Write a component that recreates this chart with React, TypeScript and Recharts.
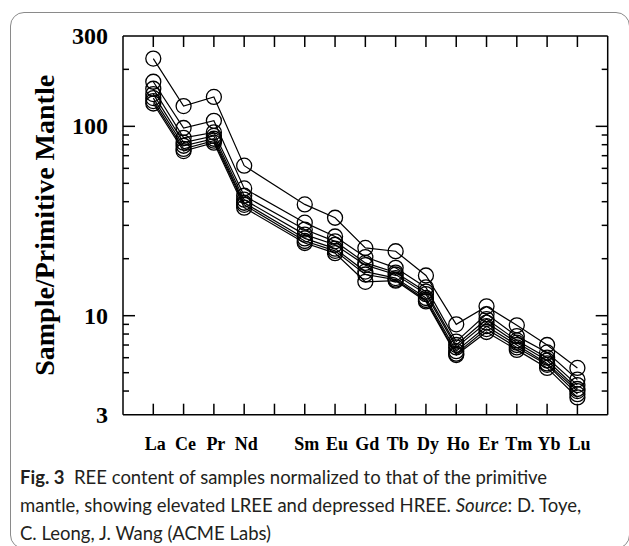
import React from "react";
import { LineChart, Line, XAxis, YAxis } from "recharts";

const ELEMENTS = ["La", "Ce", "Pr", "Nd", "Pm", "Sm", "Eu", "Gd", "Tb", "Dy", "Ho", "Er", "Tm", "Yb", "Lu"];
const TICK_LABELS = ["La", "Ce", "Pr", "Nd", "", "Sm", "Eu", "Gd", "Tb", "Dy", "Ho", "Er", "Tm", "Yb", "Lu"];

const S1 = [228, 128, 143, 62, null, 38.7, 32.9, 22.8, 21.9, 16.3, 9.0, 11.2, 8.9, 7.0, 5.3];
const S2 = [172, 98, 107, 47, null, 31, 26.2, 20.4, 17.9, 14.1, 7.3, 10.2, 7.8, 6.4, 4.6];
const S3 = [158, 87, 93, 43, null, 28.5, 24.7, 19.0, 16.9, 13.4, 7.0, 9.6, 7.4, 6.0, 4.3];
const S4 = [148, 82, 89, 41, null, 26.8, 23.7, 18.5, 16.5, 13.0, 6.8, 9.2, 7.2, 5.8, 4.1];
const S5 = [141, 79, 86, 39.5, null, 25.6, 22.6, 17.1, 15.8, 12.4, 6.5, 8.8, 7.0, 5.6, 4.0];
const S6 = [136, 76, 84, 38.5, null, 24.8, 22.0, 16.5, 15.5, 12.1, 6.3, 8.5, 6.8, 5.5, 3.85];
const S7 = [132, 74, 82, 37.2, null, 24.2, 21.4, 15.1, 15.3, 11.9, 6.2, 8.2, 6.6, 5.3, 3.7];

const SERIES = [S1, S2, S3, S4, S5, S6, S7];

const Y_TICKS = [3, 4, 5, 6, 7, 8, 9, 10, 20, 30, 40, 50, 60, 70, 80, 90, 100, 200, 300];
const Y_LABELS = [3, 10, 100, 300];
const Y_MAJOR = [10, 100];
const X_TICKS = ELEMENTS.map((_, i) => i);

const data = ELEMENTS.map((el, i) => {
  const row: any = { x: i, el };
  SERIES.forEach((s, k) => {
    row["s" + (k + 1)] = s[i];
  });
  return row;
});

const SERIF = "'Liberation Serif', 'Times New Roman', serif";
const LEFT_MARGIN = 15;

const LeftTick = (props: any) => {
  const { x, y, payload } = props;
  const v = payload.value;
  const ax = x + LEFT_MARGIN;
  const len = Y_MAJOR.includes(v) ? 12 : 6;
  const showLine = v !== 3 && v !== 300;
  return (
    <g>
      {showLine && <line x1={ax} x2={ax + len} y1={y} y2={y} stroke="#000" strokeWidth={1.5} />}
      {Y_LABELS.includes(v) && (
        <text x={x} y={y} dy={8} textAnchor="end" fontFamily={SERIF} fontWeight="bold" fontSize={24} fill="#000">
          {v}
        </text>
      )}
    </g>
  );
};

const RightTick = (props: any) => {
  const { x, y, payload } = props;
  const v = payload.value;
  const len = Y_MAJOR.includes(v) ? 12 : 6;
  if (v === 3 || v === 300) return <g />;
  return <line x1={x} x2={x - len} y1={y} y2={y} stroke="#000" strokeWidth={1.5} />;
};

const BOTTOM_MARGIN = 30;
const BottomTick = (props: any) => {
  const { x, y, payload } = props;
  const i = payload.value;
  const ay = y - BOTTOM_MARGIN;
  return (
    <g>
      <line x1={x} x2={x} y1={ay} y2={ay - 11} stroke="#000" strokeWidth={1.5} />
      <text x={x + 2} y={ay + 35} textAnchor="middle" fontFamily={SERIF} fontWeight="bold" fontSize={18} fill="#000">
        {TICK_LABELS[i]}
      </text>
    </g>
  );
};

const TopTick = (props: any) => {
  const { x, y } = props;
  return <line x1={x} x2={x} y1={y} y2={y + 11} stroke="#000" strokeWidth={1.5} />;
};

const dotStyle = { r: 7.5, stroke: "#000", strokeWidth: 1.3, fill: "none" };

export default function App() {
  return (
    <div style={{ position: "fixed", left: 0, top: 0, width: 629, height: 546, background: "#fff", overflow: "hidden" }}>
      <div
        style={{
          position: "absolute",
          left: 10,
          top: 12,
          width: 620,
          height: 537,
          border: "1.5px solid #8a8a8a",
          borderRadius: 14,
          boxSizing: "border-box",
        }}
      />
      <div style={{ position: "absolute", left: 0, top: 0 }}>
        <LineChart
          width={629}
          height={460}
          data={data}
          margin={{ top: 35, right: 20.3, left: 63, bottom: 15.3 }}
        >
          <XAxis
            xAxisId="bottom"
            dataKey="x"
            type="number"
            domain={[-1, 15]}
            ticks={X_TICKS}
            orientation="bottom"
            height={30}
            tickSize={0}
            tickMargin={BOTTOM_MARGIN}
            tick={<BottomTick />}
            axisLine={{ stroke: "#000", strokeWidth: 1.5 }}
            tickLine={false}
            interval={0}
            allowDataOverflow
          />
          <XAxis
            xAxisId="top"
            dataKey="x"
            type="number"
            domain={[-1, 15]}
            ticks={X_TICKS}
            orientation="top"
            height={1}
            tickSize={0}
            tickMargin={0}
            tick={<TopTick />}
            axisLine={{ stroke: "#000", strokeWidth: 1.5 }}
            tickLine={false}
            interval={0}
            allowDataOverflow
          />
          <YAxis
            yAxisId="left"
            scale="log"
            type="number"
            domain={[3, 300]}
            ticks={Y_TICKS}
            interval={0}
            width={60}
            tickSize={0}
            tickMargin={LEFT_MARGIN}
            tick={<LeftTick />}
            tickLine={false}
            axisLine={{ stroke: "#000", strokeWidth: 1.5 }}
            allowDataOverflow
            label={{
              value: "Sample/Primitive Mantle",
              angle: -90,
              position: "insideLeft",
              dx: -24,
              dy: 0,
              style: { fontFamily: SERIF, fontWeight: "bold", fontSize: 28, fill: "#000", textAnchor: "middle" },
            }}
          />
          <YAxis
            yAxisId="right"
            orientation="right"
            scale="log"
            type="number"
            domain={[3, 300]}
            ticks={Y_TICKS}
            interval={0}
            width={1}
            tickSize={0}
            tickMargin={0}
            tick={<RightTick />}
            tickLine={false}
            axisLine={{ stroke: "#000", strokeWidth: 1.5 }}
            allowDataOverflow
          />
          {SERIES.map((_, k) => (
            <Line
              key={k}
              xAxisId="bottom"
              yAxisId="left"
              dataKey={"s" + (k + 1)}
              stroke="#000"
              strokeWidth={1.2}
              dot={dotStyle}
              connectNulls
              isAnimationActive={false}
            />
          ))}
        </LineChart>
      </div>
      <div
        style={{
          position: "absolute",
          left: 20,
          top: 463,
          whiteSpace: "nowrap",
          fontFamily: "Lato, 'Noto Sans', sans-serif",
          fontSize: 18.5,
          lineHeight: "28px",
          color: "#231f20",
        }}
      >
        <b>Fig. 3</b>&nbsp;&nbsp;REE content of samples normalized to that of the primitive
        <br />
        mantle, showing elevated LREE and depressed HREE. <i>Source</i>: D. Toye,
        <br />
        C. Leong, J. Wang (ACME Labs)
      </div>
    </div>
  );
}
